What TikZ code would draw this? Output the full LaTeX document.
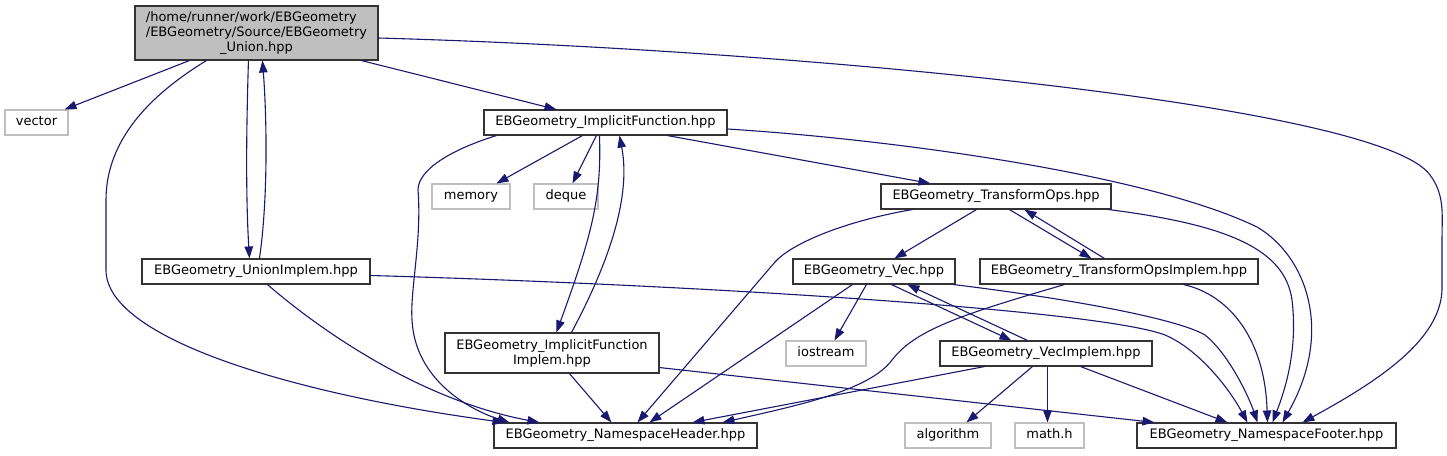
\documentclass[tikz,border=0pt]{standalone}
\usepackage{fontspec}
\setmainfont{DejaVu Sans}
\usepackage{calc}
\usetikzlibrary{arrows.meta}
\definecolor{edgeblue}{RGB}{25,25,112}
\begin{document}
\begin{tikzpicture}[x=1pt,y=-1pt]
                        \tikzstyle{box}=[draw=black!80, line width=1.1pt, minimum height=25pt, inner sep=0pt, font=\fontsize{13}{15}\selectfont]
                        \tikzstyle{file}=[box, text height=9.4pt, text depth=3pt]
                        \tikzstyle{sysfile}=[file, draw=black!25]
                        \tikzstyle{dep}=[draw=edgeblue, line width=1.1pt, -{Triangle[length=12pt,width=8.5pt]}]
                        \useasboundingbox[fill=white] (0,0) rectangle (1447,455);
                        \node[box, fill=black!25, minimum width=243, minimum height=54, align=left] (union) at (256.5,33)
                            {/home/runner/work/EBGeometry\\/EBGeometry/Source/EBGeometry\\\makebox[\widthof{/EBGeometry/Source/EBGeometry}]{\_Union.hpp}};
                        \node[sysfile, minimum width=63] (vector) at (36.5,122.5) {vector};
                        \node[file, minimum width=243] (impl) at (605.5,122.5) {EBGeometry\_ImplicitFunction.hpp};
                        \node[sysfile, minimum width=78] (memory) at (471,196.5) {memory};
                        \node[sysfile, minimum width=64] (deque) at (566,196.5) {deque};
                        \node[file, minimum width=230] (tops) at (996,196.5) {EBGeometry\_TransformOps.hpp};
                        \node[file, minimum width=228] (unionimpl) at (256,271.5) {EBGeometry\_UnionImplem.hpp};
                        \node[file, minimum width=162] (vec) at (874,271.5) {EBGeometry\_Vec.hpp};
                        \node[file, minimum width=278] (topsimpl) at (1119,271.5) {EBGeometry\_TransformOpsImplem.hpp};
                        \node[box, minimum width=214, minimum height=40, align=center] (implimpl) at (552,353) {EBGeometry\_ImplicitFunction\\Implem.hpp};
                        \node[sysfile, minimum width=80] (iostream) at (826,353.5) {iostream};
                        \node[file, minimum width=212] (vecimpl) at (1046,353.5) {EBGeometry\_VecImplem.hpp};
                        \node[file, minimum width=263] (header) at (625.5,435.5) {EBGeometry\_NamespaceHeader.hpp};
                        \node[sysfile, minimum width=86] (algorithm) at (948,435.5) {algorithm};
                        \node[sysfile, minimum width=69] (mathh) at (1049.5,435.5) {math.h};
                        \node[file, minimum width=259] (footer) at (1266.5,435.5) {EBGeometry\_NamespaceFooter.hpp};

                        \draw[dep] ([xshift=55]union.south west) -- ([xshift=-4]vector.north east);
                        \draw[dep] ([xshift=227]union.south west) -- ([xshift=73]impl.north west);
                        \draw[dep] ([xshift=114]union.south west) .. controls (246,140) and (246,200) .. ([xshift=108]unionimpl.north west);
                        \draw[dep] ([xshift=118]unionimpl.north west) .. controls (268,200) and (267,120) .. ([xshift=128]union.south west);
                        \draw[dep] ([xshift=72]union.south west) .. controls (150,95) and (106,140) .. (106,200) -- (106,270) .. controls (106,340) and (300,395) .. ([xshift=11]header.north west);
                        \draw[dep] ([yshift=-5]union.east) .. controls (800,50) and (1380,105) .. (1430,175) .. controls (1445,195) and (1442,215) .. (1442,240) -- (1442,290) .. controls (1440,340) and (1380,380) .. ([xshift=166]footer.north west);

                        \draw[dep] ([xshift=99]impl.south west) -- ([xshift=65]memory.north west);
                        \draw[dep] ([xshift=113]impl.south west) -- ([xshift=39]deque.north west);
                        \draw[dep] ([xshift=116]impl.south west) .. controls (602,200) and (590,240) .. ([xshift=112]implimpl.north west);
                        \draw[dep] ([xshift=127]implimpl.north west) .. controls (605,270) and (632,200) .. ([xshift=136]impl.south west);
                        \draw[dep] ([xshift=184]impl.south west) -- ([xshift=50]tops.north west);
                        \draw[dep] ([xshift=13]impl.south west) .. controls (450,150) and (418,170) .. (418,190) .. controls (422,240) and (410,290) .. (412,320) .. controls (415,380) and (470,410) .. ([xshift=16]header.north west);
                        \draw[dep] ([yshift=-6.5]impl.east) .. controls (900,140) and (1150,175) .. (1257,227) .. controls (1305,255) and (1335,330) .. ([xshift=146]footer.north west);

                        \draw[dep] ([xshift=96]tops.south west) -- ([xshift=102]vec.north west);
                        \draw[dep] ([xshift=129]tops.south west) -- ([xshift=112]topsimpl.north west);
                        \draw[dep] ([xshift=125]topsimpl.north west) -- ([xshift=144]tops.south west);
                        \draw[dep] ([xshift=32]tops.south west) .. controls (840,222) and (790,245) .. (775,262) -- ([xshift=144]header.north west);
                        \draw[dep] ([xshift=-3]tops.south east) .. controls (1230,225) and (1285,250) .. (1292,300) .. controls (1298,350) and (1285,390) .. ([xshift=136]footer.north west);

                        \draw[dep] ([xshift=126]unionimpl.south west) .. controls (320,330) and (420,400) .. ([xshift=46]header.north west);
                        \draw[dep] ([yshift=-4]unionimpl.east) .. controls (700,285) and (1100,310) .. (1165,335) .. controls (1200,350) and (1230,390) .. ([xshift=111]footer.north west);

                        \draw[dep] ([xshift=74]vec.south west) -- ([xshift=49]iostream.north west);
                        \draw[dep] ([xshift=99]vec.south west) -- ([xshift=72]vecimpl.north west);
                        \draw[dep] ([xshift=88]vecimpl.north west) -- ([xshift=115]vec.south west);
                        \draw[dep] ([xshift=60]vec.south west) -- ([xshift=156]header.north west);
                        \draw[dep] ([xshift=-2]vec.south east) .. controls (1080,300) and (1180,320) .. (1205,335) .. controls (1230,355) and (1250,400) .. ([xshift=121]footer.north west);

                        \draw[dep] ([xshift=85]topsimpl.south west) .. controls (960,315) and (915,330) .. (892,360) .. controls (870,390) and (800,405) .. ([xshift=229]header.north west);
                        \draw[dep] ([xshift=-75]topsimpl.south east) .. controls (1230,295) and (1265,340) .. ([xshift=131]footer.north west);

                        \draw[dep] ([xshift=125]implimpl.south west) -- ([xshift=118]header.north west);
                        \draw[dep] ([yshift=6]implimpl.south east) -- ([xshift=18]footer.north west);

                        \draw[dep] ([xshift=45]vecimpl.south west) -- ([xshift=199]header.north west);
                        \draw[dep] ([xshift=93]vecimpl.south west) -- ([xshift=62]algorithm.north west);
                        \draw[dep] ([xshift=108]vecimpl.south west) -- ([xshift=33]mathh.north west);
                        \draw[dep] ([xshift=-72]vecimpl.south east) -- ([xshift=91]footer.north west);
\end{tikzpicture}
\end{document}
